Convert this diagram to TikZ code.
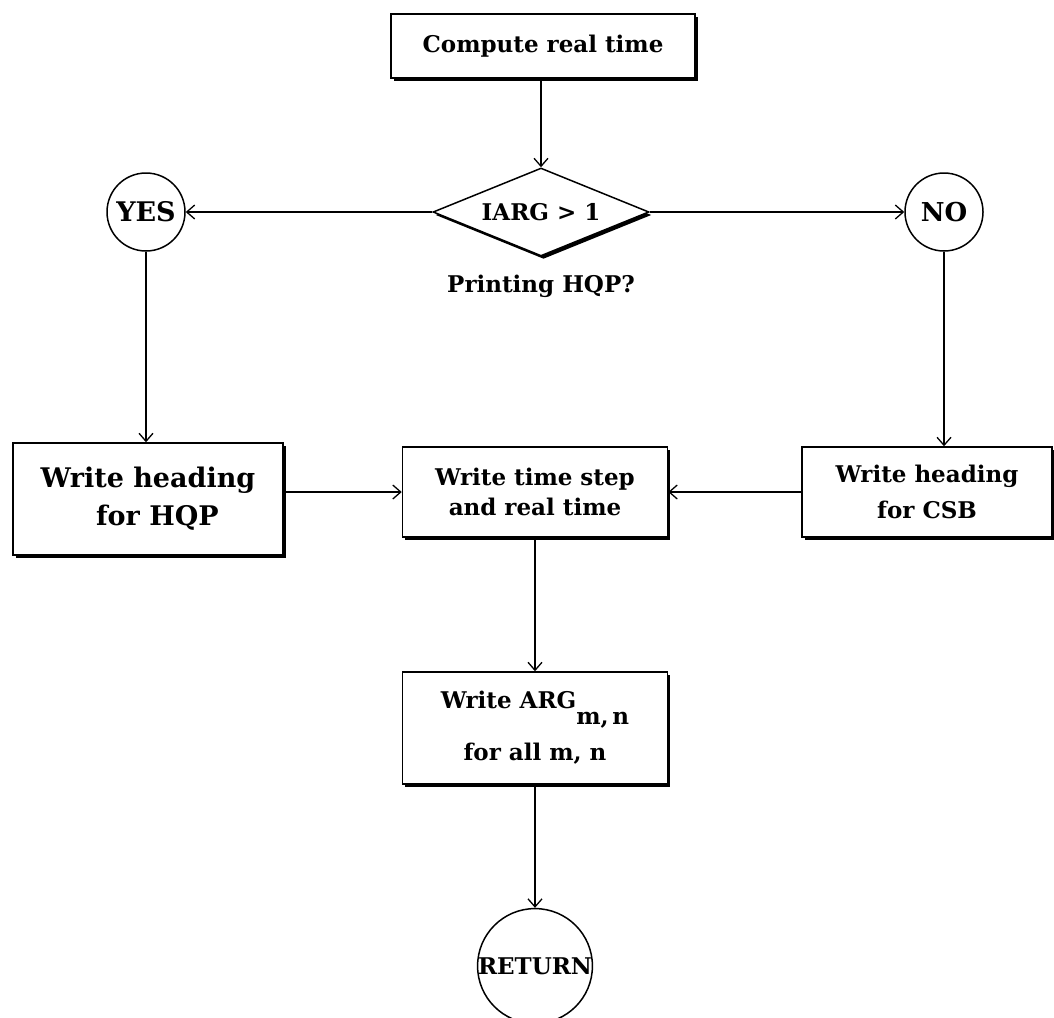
\documentclass[tikz,border=0pt]{standalone}
\usepackage{fontspec}
\setmainfont{DejaVu Serif}
\usetikzlibrary{arrows.meta,shapes.geometric,shadows}
\begin{document}
\begin{tikzpicture}[x=1pt,y=-1pt,
  txt/.style={font=\bfseries\fontsize{23}{30}\selectfont},
  big/.style={font=\bfseries\fontsize{27}{38}\selectfont},
  shad/.style={drop shadow={shadow xshift=2.5pt,shadow yshift=-3pt,fill=black,opacity=1}},
  box/.style={txt,draw,line width=1.5pt,fill=white,align=center,inner sep=0pt,shad},
  dec/.style={txt,draw,line width=1.5pt,fill=white,shape=diamond,inner sep=0pt,aspect=2.45,minimum width=216pt,minimum height=88pt,shad},
  term/.style={txt,draw,line width=1.5pt,fill=white,circle,inner sep=0pt},
  arr/.style={line width=1.3pt,-{Straight Barb[length=8pt,width=14pt,line width=1.3pt]}}]
\useasboundingbox (0,0) rectangle (1054,1017);
\node[box,minimum width=304pt,minimum height=64pt] (c) at (543,46) {Compute real time};
\node[dec] (d) at (541,212) {IARG > 1};
\node[txt] (q) at (541,286) {Printing HQP?};
\node[term,big,minimum size=78pt] (yes) at (146,212) {YES};
\node[term,minimum size=78pt,font=\bfseries\fontsize{26}{30}\selectfont] (no) at (944,212) {NO};
\node[box,big,minimum width=270pt,minimum height=112pt] (h) at (148,499) {Write heading\\\ \ for HQP};
\node[box,minimum width=265pt,minimum height=90pt] (m) at (535,492) {Write time step\\and real time};
\node[box,minimum width=250pt,minimum height=90pt,font=\bfseries\fontsize{23}{36}\selectfont] (s) at (927,492) {Write heading\\for CSB};
\node[box,minimum width=265pt,minimum height=112pt] (a) at (535,728) {Write ARG\raisebox{-16pt}{m,\,n}\\[14pt]for all m, n};
\node[term,minimum size=112pt] (r) at (535,966) {RETURN};
\draw[arr] (c.south -| d.north) -- (d.north);
\draw[arr] (d.west) -- (yes.east);
\draw[arr] (d.east) -- (no.west);
\draw[arr] (yes.south) -- (yes.south |- h.north);
\draw[arr] (no.south) -- (no.south |- s.north);
\draw[arr] (h.east |- m.west) -- (m.west);
\draw[arr] (s.west) -- (m.east);
\draw[arr] (m.south) -- (a.north);
\draw[arr] (a.south) -- (r.north);
\end{tikzpicture}
\end{document}
